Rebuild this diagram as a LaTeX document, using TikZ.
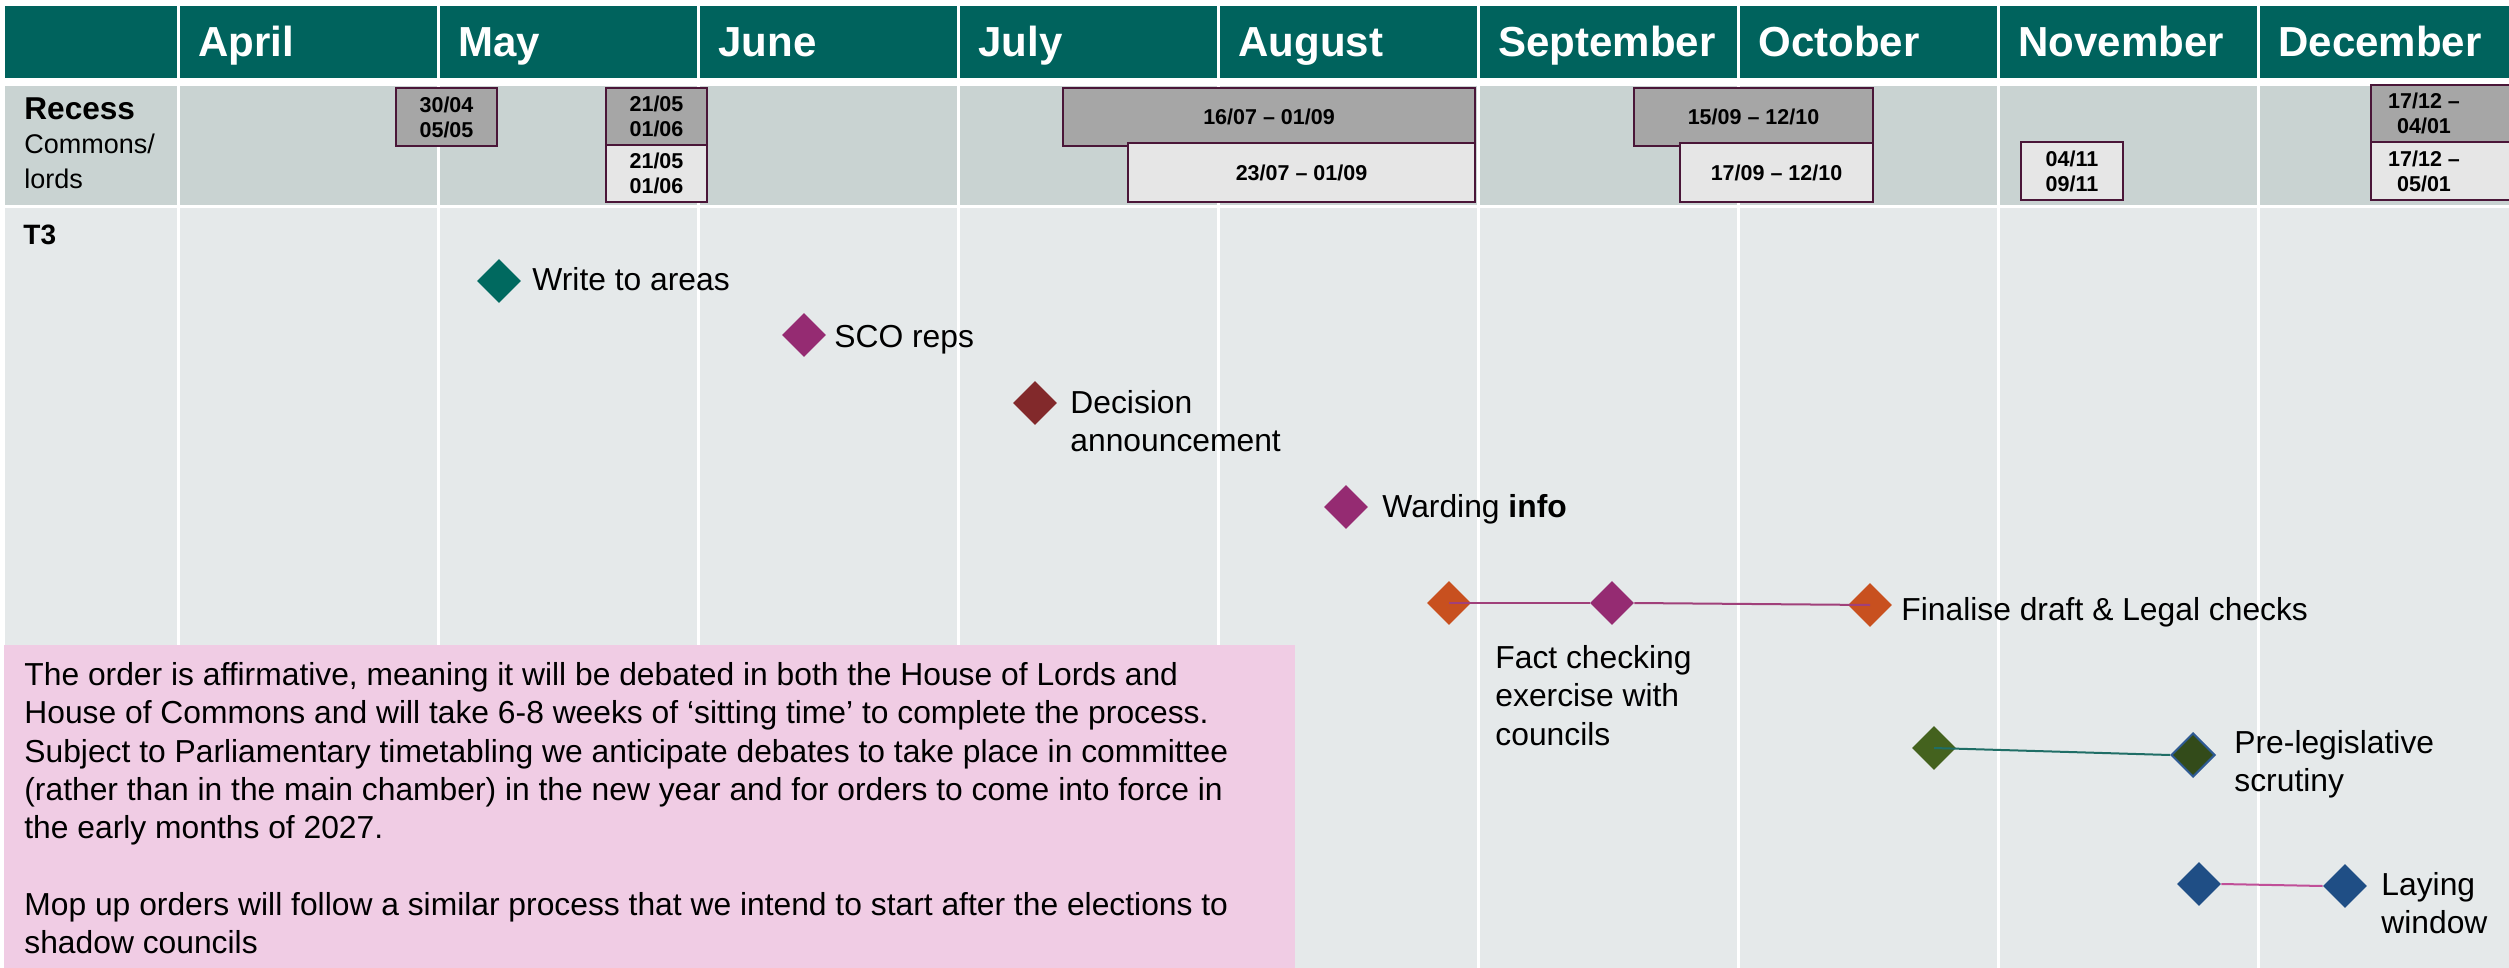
\documentclass[tikz,border=0pt]{standalone}
\usepackage{fontspec}
\setmainfont{Liberation Sans}
\usetikzlibrary{shapes.geometric}
\definecolor{hdr}{HTML}{00635D}
\definecolor{recrow}{HTML}{C9D3D2}
\definecolor{bodyrow}{HTML}{E5E9EA}
\definecolor{pinkbox}{HTML}{F0CCE4}
\definecolor{boxdark}{HTML}{A6A6A6}
\definecolor{boxlight}{HTML}{E6E6E6}
\definecolor{boxedge}{HTML}{4A1638}
\definecolor{cteal}{HTML}{00695F}
\definecolor{cmag}{HTML}{952B72}
\definecolor{cred}{HTML}{82292B}
\definecolor{corange}{HTML}{C8501F}
\definecolor{cgreen}{HTML}{44621E}
\definecolor{cdkgreen}{HTML}{334B1A}
\definecolor{cblue}{HTML}{1F4E85}
\definecolor{cedgeblue}{HTML}{2E5A94}
\definecolor{lnmag}{HTML}{A0407A}
\definecolor{lnteal}{HTML}{1F6E66}
\definecolor{lnpink}{HTML}{C04F98}
\begin{document}
\begin{tikzpicture}[x=0.5pt,y=-0.5pt,
  month/.style={anchor=base west, text=white, font=\fontsize{21}{25}\selectfont\bfseries, inner sep=0},
  ms/.style={shape=diamond, minimum width=22pt, minimum height=22pt, inner sep=0, draw=none, fill=#1},
  lbl/.style={anchor=base west, inner sep=0, font=\fontsize{15.9}{19.15}\selectfont},
  mlbl/.style={anchor=north west, inner sep=0, font=\fontsize{15.9}{19.15}\selectfont, align=left},
  recbox/.style={draw=boxedge, line width=1.25pt, fill=#1, inner sep=0, align=center, font=\fontsize{10.75}{12.5}\selectfont\bfseries},
  rectxt/.style={font=\fontsize{10.75}{12.5}\selectfont\bfseries, align=center, inner sep=0},
  sepline/.style={draw=white, line width=1.5pt},
  link/.style={line width=1pt, draw=#1},
]
\useasboundingbox (0,0) rectangle (2509,968);
\clip (0,0) rectangle (2509,968);
\fill[white] (0,0) rectangle (2509,968);
% bands
\fill[hdr] (5,6) rectangle (2509,78);
\fill[recrow] (5,86) rectangle (2509,205);
\fill[bodyrow] (5,208) rectangle (2509,968);
\foreach \x in {178,438,...,2258} \draw[sepline] (\x,0) -- (\x,968);
% month headings
\foreach \m [count=\i from 0] in {April,May,June,July,August,September,October,November,December}
  \node[month] (m\i) at (198+260*\i,57) {\m};
% row labels
\node[anchor=base west, inner sep=0, font=\fontsize{15.8}{18}\selectfont\bfseries] (reclbl) at (24,120) {Recess};
\node[anchor=base west, inner sep=0, font=\fontsize{13.5}{16}\selectfont] (comlbl) at (24,154) {Commons/};
\node[anchor=base west, inner sep=0, font=\fontsize{13.5}{16}\selectfont] (lordlbl) at (24,189) {lords};
\node[anchor=base west, inner sep=0, font=\fontsize{14}{17}\selectfont\bfseries] (t3) at (23,245) {T3};
% recess boxes
\node[recbox=boxdark, minimum width=50.5pt, minimum height=29pt] (r1) at (446.5,117) {30/04\\05/05};
\node[recbox=boxdark, minimum width=50.5pt, minimum height=28.5pt] (r2) at (656.5,116.5) {21/05\\01/06};
\node[recbox=boxlight, minimum width=50.5pt, minimum height=28.5pt] (r3) at (656.5,173.5) {21/05\\01/06};
\node[recbox=boxdark, minimum width=206pt, minimum height=29pt] (r4) at (1269,117) {16/07 – 01/09};
\node[recbox=boxlight, minimum width=173.5pt, minimum height=29.5pt] (r5) at (1301.5,172.5) {23/07 – 01/09};
\node[recbox=boxdark, minimum width=119.5pt, minimum height=29pt] (r6) at (1753.5,117) {15/09 – 12/10};
\node[recbox=boxlight, minimum width=96.5pt, minimum height=29.5pt] (r7) at (1776.5,172.5) {17/09 – 12/10};
\node[recbox=boxlight, minimum width=51pt, minimum height=29pt] (r8) at (2072,171) {04/11\\09/11};
\node[recbox=boxdark, minimum width=94.5pt, minimum height=28.5pt] (r9) at (2465.5,113.5) {};
\node[rectxt] (r9t) at (2424,113.5) {17/12 –\\04/01};
\node[recbox=boxlight, minimum width=94.5pt, minimum height=29pt] (r10) at (2465.5,171) {};
\node[rectxt] (r10t) at (2424,171) {17/12 –\\05/01};
% pink note
\fill[pinkbox] (4,645) rectangle (1295,975);
\node[mlbl] (note) at (24,658.2) {\strut The order is affirmative, meaning it will be debated in both the House of Lords and\\
House of Commons and will take 6-8 weeks of ‘sitting time’ to complete the process.\\
Subject to Parliamentary timetabling we anticipate debates to take place in committee\\
(rather than in the main chamber) in the new year and for orders to come into force in\\
the early months of 2027.\\[19.15pt]
Mop up orders will follow a similar process that we intend to start after the elections to\\
shadow councils};
% milestones
\node[ms=cteal] (d1) at (499,281) {};
\node[lbl] (l1) at (532,290) {Write to areas};
\node[ms=cmag] (d2) at (804,335) {};
\node[lbl] (l2) at (834,347) {SCO reps};
\node[ms=cred] (d3) at (1035,403) {};
\node[mlbl] (l3) at (1070,386.2) {\strut Decision\\announcement};
\node[ms=cmag] (d4) at (1346,507) {};
\node[lbl] (l4) at (1382,517) {Warding \textbf{info}};
\node[ms=corange] (d5) at (1449,603) {};
\node[ms=cmag] (d6) at (1612,603) {};
\node[ms=corange] (d7) at (1870,605) {};
\draw[link=lnmag] (d5.center) -- (d6.west);
\draw[link=lnmag] (d6.east) -- (d7.center);
\node[lbl] (l7) at (1901,620) {Finalise draft \& Legal checks};
\node[mlbl] (l6) at (1495,641.2) {\strut Fact checking\\exercise with\\councils};
\node[ms=cgreen] (d8) at (1934,748) {};
\node[ms=cdkgreen, draw=cedgeblue, line width=1pt] (d9) at (2193,755) {};
\draw[link=lnteal] (d8.center) -- (d9.west);
\node[mlbl] (l9) at (2234,726.2) {\strut Pre-legislative\\scrutiny};
\node[ms=cblue] (d10) at (2199,884) {};
\node[ms=cblue] (d11) at (2345,886) {};
\draw[link=lnpink] (d10.east) -- (d11.west);
\node[mlbl] (l11) at (2381,868.2) {\strut Laying\\window};
\end{tikzpicture}
\end{document}
